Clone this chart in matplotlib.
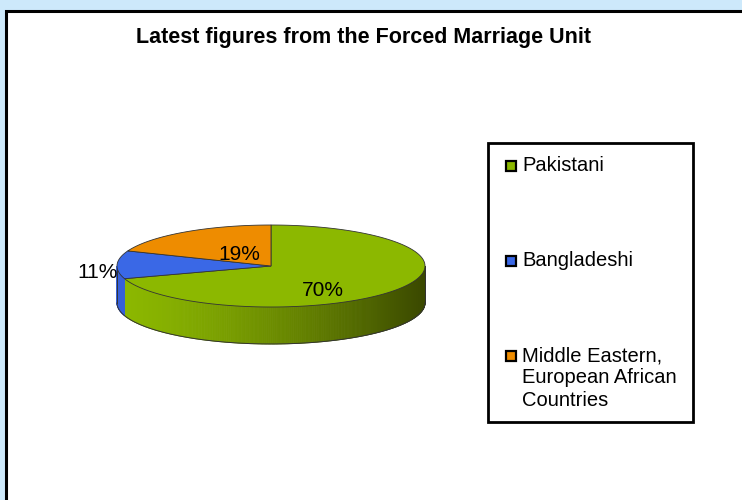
"""
Recreate the 'Latest figures from the Forced Marriage Unit' 3D pie chart.
"""

import matplotlib

matplotlib.use("Agg")
import matplotlib.pyplot as plt
import numpy as np
from matplotlib.colors import to_rgb
from matplotlib.patches import Polygon, Rectangle

plt.rcParams["font.family"] = ["Liberation Sans", "DejaVu Sans"]

TITLE = "Latest figures from the Forced Marriage Unit"
LABELS = ["Pakistani", "Bangladeshi", "Middle Eastern,\nEuropean African\nCountries"]
VALUES = [70, 11, 19]
COLORS = ["#8cb800", "#3a68e6", "#ee8c00"]
DARK = ["#3a4800", "#1c3490", "#8a5000"]
# radial factor (x, y) and vertical nudge for each percentage label
LABEL_R = [(0.42, 1.0, 0), (1.13, 1.13, 8), (0.37, 0.37, 1)]

W, H = 742, 500
CX, CY, RX, RY, DEPTH = 271, 266, 154, 41, 37


def pt(phi_deg, r=1.0, dy=0.0):
    """Screen point on the pie's top ellipse; phi clockwise from 12 o'clock."""
    p = np.radians(phi_deg)
    return CX + r * RX * np.sin(p), CY - r * RY * np.cos(p) + dy


def main() -> None:
    fig = plt.figure(figsize=(W / 100, H / 100), dpi=100)
    fig.patch.set_facecolor("#cde9fb")
    ax = fig.add_axes([0, 0, 1, 1])
    ax.set_xlim(0, W)
    ax.set_ylim(H, 0)
    ax.axis("off")

    # white chart area with black left/top border
    ax.add_patch(Rectangle((6, 11), W, H, facecolor="white", edgecolor="black", lw=2.2, zorder=0))

    total = float(sum(VALUES))
    bounds = np.concatenate([[0.0], np.cumsum(VALUES) / total * 360.0])

    # side wall (front half only: phi 90..270)
    for i in range(len(VALUES)):
        a0, a1 = max(bounds[i], 90.0), min(bounds[i + 1], 270.0)
        if a1 <= a0:
            continue
        steps = np.linspace(a0, a1, max(int((a1 - a0) * 2), 2))
        c_lo, c_hi = np.array(to_rgb(COLORS[i])), np.array(to_rgb(DARK[i]))
        for s0, s1 in zip(steps[:-1], steps[1:]):
            xs0, ys0 = pt(s0)
            xs1, ys1 = pt(s1)
            t = ((xs0 + xs1) / 2 - (CX - RX)) / (2 * RX)
            t = np.clip(t, 0, 1) ** 1.4 if i == 0 else 0.15
            col = c_lo * (1 - t) + c_hi * t
            quad = [(xs0, ys0), (xs1, ys1), (xs1, ys1 + DEPTH), (xs0, ys0 + DEPTH)]
            ax.add_patch(Polygon(quad, closed=True, facecolor=col, edgecolor=col, lw=0.6, zorder=1))

    # wall outlines
    arc = np.linspace(90, 270, 200)
    bx, by = pt(arc, dy=DEPTH)
    ax.plot(bx, by, color="#333333", lw=0.7, zorder=2)
    for a in (90, 270):
        x0, y0 = pt(a)
        ax.plot([x0, x0], [y0, y0 + DEPTH], color="#333333", lw=0.7, zorder=2)

    # top face wedges
    for i in range(len(VALUES)):
        arc = np.linspace(bounds[i], bounds[i + 1], 200)
        ex, ey = pt(arc)
        poly = [(CX, CY)] + list(zip(ex, ey))
        ax.add_patch(Polygon(poly, closed=True, facecolor=COLORS[i], edgecolor="#333333", lw=0.6, zorder=3))

    # percentage labels
    for i, v in enumerate(VALUES):
        mid = (bounds[i] + bounds[i + 1]) / 2
        p = np.radians(mid)
        rx_f, ry_f, nudge = LABEL_R[i]
        lx = CX + rx_f * RX * np.sin(p)
        ly = CY - ry_f * RY * np.cos(p) + nudge
        ax.text(lx, ly, f"{v}%", fontsize=15, ha="center", va="center", zorder=4)

    ax.text(364, 37, TITLE, fontsize=15.5, fontweight="bold", ha="center", va="center")

    # legend box
    ax.add_patch(Rectangle((488, 143), 205, 279, facecolor="white", edgecolor="black", lw=2, zorder=2))
    entry_y = [166, 261, 356]
    for lab, col, y in zip(LABELS, COLORS, entry_y):
        ax.add_patch(Rectangle((506, y - 5), 10, 10, facecolor=col, edgecolor="black", lw=1.6, zorder=3))
        ax.text(522, y - 10, lab, fontsize=14.5, ha="left", va="top", linespacing=1.22, zorder=3)

    fig.savefig("out.png", dpi=100, facecolor=fig.get_facecolor())
    plt.close(fig)


if __name__ == "__main__":
    main()
